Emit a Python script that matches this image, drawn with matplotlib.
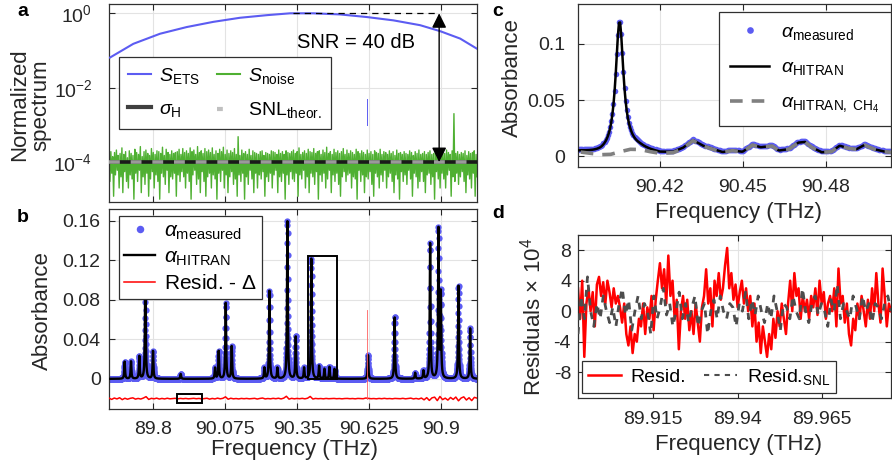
import numpy as np
import matplotlib
matplotlib.use('Agg')
import matplotlib.pyplot as plt
from matplotlib.patches import Rectangle
from matplotlib.lines import Line2D

plt.rcParams['font.family'] = ['Liberation Sans', 'DejaVu Sans']
plt.rcParams['mathtext.fontset'] = 'custom'
plt.rcParams['mathtext.rm'] = 'Liberation Sans'
plt.rcParams['mathtext.it'] = 'Liberation Sans:italic'
plt.rcParams['mathtext.bf'] = 'Liberation Sans:bold'
plt.rcParams['mathtext.sf'] = 'Liberation Sans'

# ---------------- data ----------------
# panel a
ets_freq = [89.6358, 89.7248, 89.8267, 89.9287, 90.0303, 90.1323, 90.2343, 90.3233,
            90.4123, 90.5143, 90.6163, 90.7179, 90.8199, 90.8963, 90.9727, 91.0364]
ets_vals = [0.0646, 0.151, 0.282, 0.427, 0.589, 0.759, 0.891, 1.0,
            1.0, 0.933, 0.794, 0.646, 0.479, 0.331, 0.209, 0.112]
ets_spike_freq = [90.6174, 90.6174]
ets_spike_vals = [1.0e-3, 5.0e-3]
noise_a_hi = [  # upper excursions, units of 1e-4
    1.6, 1.9, 1.4, 1.8, 2.1, 1.5, 1.7, 2.4, 1.6, 1.9,
    1.3, 2.0, 1.7, 1.5, 2.2, 1.8, 1.6, 2.6, 1.4, 1.9,
    2.1, 1.7, 1.5, 2.3, 1.8, 1.6, 2.0, 1.9, 1.7, 2.5,
    1.5, 2.2, 1.8, 1.6, 2.0, 1.7, 1.8, 1.9, 2.2, 1.6,
    2.3, 1.8, 2.0, 1.7, 2.4, 1.9, 2.1, 1.6, 2.6, 1.8,
    2.0, 1.7, 2.3, 1.9, 2.1, 1.8, 2.4, 1.6, 2.0, 1.7,
    2.2, 1.9, 2.5, 1.6, 2.1, 1.7, 2.0, 1.8, 2.3, 1.6,
    4.8, 1.5, 2.1, 1.7, 1.9, 1.6, 2.2, 1.5, 2.0, 1.8,
    1.7, 1.6, 1.9, 2.0, 1.5, 1.8, 1.7, 1.6, 2.0, 1.9,
    1.8, 1.6, 2.1, 1.7, 1.9, 1.6, 2.0, 1.8, 1.7, 1.9,
    2.1, 1.7, 1.9, 2.4, 1.6, 1.8, 2.0, 1.7, 2.2, 1.9,
    1.8, 2.3, 1.7, 1.9, 2.0, 1.6, 2.1, 1.8, 2.5, 1.7,
    1.9, 1.6, 2.2, 1.8, 2.0, 1.7, 1.9, 2.3, 1.6, 2.1,
    1.7, 2.0, 1.8, 1.6, 2.2, 1.9, 1.7, 2.0, 1.8, 1.6,
    2.1, 1.7, 1.9, 1.6, 2.0, 1.8, 1.7, 2.2, 1.6, 1.9,
    1.8, 1.6, 2.0, 1.7, 1.9, 1.5, 2.1, 1.7, 1.8, 1.6,
    1.9, 1.7, 1.6, 2.0, 1.8, 1.5, 1.9, 1.7, 2.1, 1.6,
    1.7, 1.9, 1.6, 1.8, 2.0, 1.6, 1.7, 1.9, 1.5, 1.8,
    1.6, 1.9, 1.7, 2.1, 1.8, 1.6, 2.0, 20.0, 1.7, 1.9,
    1.6, 1.8, 1.7, 2.0, 1.5, 1.9, 1.7, 1.8, 2.0, 1.6,
]
noise_a_lo = [  # lower excursions, units of 1e-4
    0.3, 0.5, 0.12, 0.45, 0.6, 0.2, 0.4, 0.15, 0.55, 0.3,
    0.2, 0.45, 0.35, 0.1, 0.5, 0.3, 0.6, 0.15, 0.4, 0.25,
    0.5, 0.12, 0.35, 0.55, 0.2, 0.45, 0.3, 0.1, 0.5, 0.4,
    0.25, 0.6, 0.15, 0.4, 0.35, 0.5, 0.12, 0.45, 0.3, 0.55,
    0.4, 0.2, 0.5, 0.3, 0.1, 0.45, 0.6, 0.25, 0.35, 0.15,
    0.55, 0.3, 0.12, 0.4, 0.5, 0.2, 0.45, 0.35, 0.1, 0.5,
    0.3, 0.6, 0.2, 0.45, 0.15, 0.4, 0.55, 0.25, 0.35, 0.12,
    0.45, 0.3, 0.5, 0.1, 0.4, 0.25, 0.6, 0.35, 0.15, 0.5,
    0.2, 0.45, 0.35, 0.55, 0.12, 0.4, 0.3, 0.5, 0.2, 0.45,
    0.6, 0.15, 0.4, 0.3, 0.5, 0.1, 0.45, 0.25, 0.55, 0.35,
    0.3, 0.5, 0.12, 0.45, 0.35, 0.6, 0.2, 0.4, 0.15, 0.5,
    0.4, 0.25, 0.55, 0.1, 0.45, 0.3, 0.5, 0.2, 0.35, 0.6,
    0.15, 0.45, 0.3, 0.5, 0.25, 0.12, 0.4, 0.55, 0.3, 0.45,
    0.5, 0.2, 0.4, 0.35, 0.1, 0.6, 0.3, 0.45, 0.15, 0.4,
    0.35, 0.55, 0.25, 0.12, 0.5, 0.4, 0.2, 0.45, 0.3, 0.6,
    0.2, 0.4, 0.5, 0.3, 0.15, 0.45, 0.35, 0.1, 0.55, 0.3,
    0.45, 0.25, 0.6, 0.35, 0.12, 0.5, 0.4, 0.2, 0.3, 0.55,
    0.3, 0.15, 0.45, 0.5, 0.25, 0.4, 0.1, 0.55, 0.35, 0.2,
    0.5, 0.35, 0.2, 0.45, 0.6, 0.12, 0.4, 0.3, 0.5, 0.25,
    0.4, 0.55, 0.3, 0.15, 0.45, 0.35, 0.2, 0.5, 0.12, 0.4,
]
sigma_h = 1.0e-4
snl_theor = 1.0e-4
snr_span_freq = [90.335, 90.8925]

# panel b
peak_centers = [89.6918, 89.716, 89.7478, 89.7707, 89.800, 89.9057, 90.0368, 90.0508,
                90.0776, 90.1005, 90.2253, 90.2444, 90.2749, 90.3131, 90.345, 90.3768,
                90.4045, 90.4341, 90.4545, 90.4736, 90.4927, 90.6208, 90.7226, 90.8008,
                90.8325, 90.858, 90.8899, 90.8988, 90.9663, 91.0108]
peak_heights = [0.0176, 0.0176, 0.023, 0.11, 0.028, 0.005, 0.011, 0.028,
                0.0766, 0.033, 0.011, 0.089, 0.011, 0.16, 0.043, 0.011,
                0.122, 0.013, 0.010, 0.012, 0.010, 0.024, 0.063, 0.006,
                0.008, 0.137, 0.151, 0.085, 0.0945, 0.051]
peak_hwhm = 0.0017
resid_b = [  # units of 1e-3
    0.5, -0.8, 0.6, -0.3, 0.9, -1.0, 0.4, -0.6, 0.3, 0.8,
    -0.5, 0.2, -0.4, 0.6, 2.0, -0.8, 0.3, -0.2, 0.5, -0.4,
    0.2, -0.3, 0.4, -0.2, 0.1, 0.3, -0.2, 0.2, -0.1, 0.2,
    -0.2, 0.1, 0.3, -0.1, 0.2, -0.3, 0.1, 0.4, -0.5, 0.2,
    -0.3, 0.5, -0.2, 0.3, 1.8, -0.6, 0.4, -0.2, 0.1, -0.3,
    0.2, -0.1, 0.2, -0.2, 0.1, 0.3, -0.4, 0.2, 0.6, -0.3,
    0.1, -0.2, 0.3, -0.1, 0.4, -0.3, 0.5, 2.4, -0.5, 0.3,
    -0.2, 0.2, -0.1, 0.3, -0.2, 0.4, 2.2, -0.4, 0.2, -0.1,
    0.1, -0.2, 0.2, -0.1, 0.1, 0.2, -0.1, 0.1, -0.2, 0.1,
    0.2, -0.1, 0.1, -0.2, 0.2, 0.1, -0.1, 0.6, 0.2, -0.1,
    0.1, -0.2, 0.2, -0.1, 0.3, -0.1, 0.1, -0.2, 0.2, 0.1,
    -0.1, 0.3, -0.2, 0.2, 0.5, -0.3, 0.2, -0.4, 0.6, -1.2,
    1.0, -1.8, 0.8, 1.5, -2.0, 2.2, -1.0, 0.5, -1.5, 1.2,
    -0.8, 1.6, -2.2, 0.6, 1.8, -1.4, 0.9, -2.0, 1.3, 0.5,
]
resid_offset = 0.02
resid_spike_freq = [90.6172, 90.6172]
resid_spike_vals = [-0.02, 0.07]

# panel c
c_freq = [90.3915, 90.3951, 90.3987, 90.4023, 90.4058, 90.4094, 90.413, 90.4165,
          90.4201, 90.4249, 90.4285, 90.432, 90.4356, 90.4392, 90.4427, 90.4463,
          90.4499, 90.4535, 90.4564, 90.4606, 90.463, 90.4665, 90.4701, 90.4725,
          90.4749, 90.4785, 90.482, 90.485, 90.488, 90.491, 90.4939, 90.4975,
          90.5011, 90.5035]
c_ch4 = [0.0035, 0.0024, 0.0012, 0.0015, 0.0039, 0.006, 0.0058, 0.0039,
         0.0024, 0.003, 0.0069, 0.0137, 0.0089, 0.006, 0.0033, 0.0048,
         0.0036, 0.0098, 0.0077, 0.0089, 0.0048, 0.006, 0.0119, 0.0125,
         0.0077, 0.0033, 0.0039, 0.0092, 0.0069, 0.006, 0.0098, 0.006,
         0.0039, 0.0033]
c_main_center = 90.4055
c_main_height = 0.117

# panel d
resid_d = [
    3, -1, 4, -6, 1, 3, 0, 2.5, -2, 3.5,
    4.5, 2, 3.8, 1, 4, 2.5, 0.5, 3, 1, 2,
    0.5, -1.5, 1, -3, -4.5, -2, -5.5, -3, -4, -1,
    -2, 1, -3, 0.5, -1, 2, -2.5, 1.5, 4, 6.3,
    3, 5.5, 1, 7.3, 2, 4, -1, 1.5, -5, 0,
    2, -1, 1.5, -2.5, 0, -3, 1, -1.5, -4, 0.5,
    2, 5.5, 1, 3, -2, 4, 2, 5, 1.5, 3,
    6, 8.3, 3, 5, 1.5, 3.5, 0.5, 2.5, 4, 1,
    3, 0, 2, -2, 1, -4, -1.5, -5.5, -2, -4,
    -6, -3, -5, -1, -3.5, 0, -2, 1, -1, -3,
    1, 4, 0, 5, 2, 3, -1, 2, 0, 1.5,
    -1, 2, 0.5, 3, -0.5, 4, 1, 2.5, -1, 1,
    2, 0, 3, -2, 5.6, 1, 2, -1.5, 1, -3,
    -4.5, -1, -2.5, 1, -1, 2, 0, -2, 1.5, -1,
    3, 0, 5, 1, -1.5, 5.6, 2, -2, 1, 0,
]
resid_snl_d = [
    -3, 2, -1, 4.5, 0, -2, 1, -1, 2, 0,
    -1.5, 0.5, -2, 1, 3, -0.5, 1.5, -2.5, 0, 2,
    -1, 1, 0, -3, 2, -1, 0.5, 3, -0.5, 1,
    -2, 0, 2.5, -1, 1, -1.5, 0.5, 2, -2, 0,
    1, -3, 0, 1.5, -1, 2, 0, -1, 1, 0.5,
    -2, 1, 0, 2.5, -1, 1.5, -0.5, 2, 0, -1.5,
    1, -1, 2, 0, -2.5, 1, 0.5, -1, 2, 0,
    -1, 3, 0, -1.5, 1, 2, -0.5, 1, 0, -2,
    1.5, 0, 3.5, -1, 1, 0, -1, 2, 0.5, -1,
    2, 0, 1, -1.5, 1, 0.5, -1, 1, 2, 0,
]

# axis limits / ticks
xlim_ab = (89.632, 91.037)
xlim_c = (90.3905, 90.5035)
xlim_d = (89.8927, 89.9855)
xticks_ab = [89.8, 90.075, 90.35, 90.625, 90.9]
xticklabels_ab = ['89.8', '90.075', '90.35', '90.625', '90.9']
yticks_b = [0, 0.04, 0.08, 0.12, 0.16]
yticklabels_b = ['0', '0.04', '0.08', '0.12', '0.16']
xticks_c = [90.42, 90.45, 90.48]
xticklabels_c = ['90.42', '90.45', '90.48']
yticks_c = [0, 0.05, 0.1]
yticklabels_c = ['0', '0.05', '0.1']
xticks_d = [89.915, 89.94, 89.965]
xticklabels_d = ['89.915', '89.94', '89.965']
yticks_d = [-8, -4, 0, 4, 8]
yticklabels_d = ['-8', '-4', '0', '4', '8']

# ---------------- styling ----------------
BLUE = '#5c5cf2'
GREEN = '#4fb032'
TXT = '#262626'
W, H = 892, 471


def lorentz(f, centers, heights, g):
    f = np.asarray(f)[:, None]
    return np.sum(np.asarray(heights) / (1 + ((f - np.asarray(centers)) / g) ** 2), axis=1)


def style(ax, ypad):
    for s in ax.spines.values():
        s.set_color('#303030')
        s.set_linewidth(0.9)
    ax.grid(True, color='#e3e3e3', lw=0.8)
    ax.set_axisbelow(True)
    ax.tick_params(direction='in', length=4, width=0.8, colors=TXT, labelsize=14,
                   top=True, right=True)
    ax.tick_params(axis='x', pad=9)
    ax.tick_params(axis='y', pad=ypad)


def frame(leg):
    leg.get_frame().set_linewidth(0.9)


fig = plt.figure(figsize=(W / 100, H / 100), dpi=100)
axa = fig.add_axes([109 / W, 1 - 202 / H, 368 / W, 198 / H])
axb = fig.add_axes([109 / W, 1 - 409 / H, 368 / W, 200 / H])
axc = fig.add_axes([578 / W, 1 - 167 / H, 313 / W, 163 / H])
axd = fig.add_axes([578 / W, 1 - 398 / H, 313 / W, 163 / H])

# ---------------- panel a ----------------
style(axa, 12)
axa.set_yscale('log')
noise_series = np.empty(len(noise_a_hi) + len(noise_a_lo))
noise_series[0::2] = noise_a_hi
noise_series[1::2] = noise_a_lo
noise_freq = np.linspace(xlim_ab[0], xlim_ab[1], len(noise_series))
axa.plot(noise_freq, noise_series * 1e-4, color=GREEN, lw=1.0, zorder=2)
axa.axhline(sigma_h, color='#1a1a1a', lw=2.6, zorder=3)
axa.axhline(snl_theor, color='#9a9a9a', lw=2.6, ls=(0, (3, 3)), zorder=4)
axa.plot(ets_freq, ets_vals, color=BLUE, lw=1.5, zorder=3)
axa.plot(ets_spike_freq, ets_spike_vals, color=BLUE, lw=0.7, zorder=3)
axa.plot(snr_span_freq, [1.0, 1.0], color='k', lw=0.9, ls=(0, (5, 4)), zorder=5)
axa.annotate('', xy=(snr_span_freq[1], sigma_h), xytext=(snr_span_freq[1], 1.0),
             arrowprops=dict(arrowstyle='<|-|>', color='k', lw=1.0, mutation_scale=22,
                             shrinkA=0, shrinkB=0), zorder=6)
axa.text(90.5754, 0.16, 'SNR = 40 dB', fontsize=14.5, color='k', ha='center', va='center')
axa.set_xlim(xlim_ab)
axa.set_ylim(8.4e-6, 1.78)
axa.set_yticks([1e-4, 1e-2, 1])
axa.set_yticklabels(['$10^{-4}$', '$10^{-2}$', '$10^{0}$'])
axa.yaxis.set_minor_locator(matplotlib.ticker.NullLocator())
axa.set_xticks(xticks_ab)
axa.set_xticklabels([])
axa.set_ylabel('Normalized\nspectrum', fontsize=16, color=TXT, va='center', linespacing=1.0)
axa.yaxis.set_label_coords(-0.215, 0.49)
ha = [Line2D([], [], color=BLUE, lw=1.5), Line2D([], [], color='#404040', lw=3),
      Line2D([], [], color=GREEN, lw=1.5), Line2D([], [], color='#c0c0c0', lw=3, ls=(0, (1.4, 10)))]
la = ['$S_{\\mathrm{ETS}}$', '$\\sigma_{\\mathrm{H}}$', '$S_{\\mathrm{noise}}$', 'SNL$_{\\mathrm{theor.}}$']
frame(axa.legend(ha, la, ncol=2, loc='upper left', bbox_to_anchor=(0.027, 0.732),
                 borderaxespad=0, fontsize=14, frameon=True, fancybox=False,
                 edgecolor='#303030', framealpha=1, handlelength=1.2, handletextpad=0.4,
                 columnspacing=0.9, labelspacing=0.75, borderpad=0.45))

# ---------------- panel b ----------------
style(axb, 6)
b_grid = np.arange(xlim_ab[0], xlim_ab[1], 0.0004)
b_model = lorentz(b_grid, peak_centers, peak_heights, peak_hwhm)
axb.plot(b_grid, b_model, 'o', color=BLUE, ms=4.5, mec='none', zorder=2,
         label='$\\alpha_{\\mathrm{measured}}$')
axb.plot(b_grid, b_model, '-', color='k', lw=1.7, zorder=3, label='$\\alpha_{\\mathrm{HITRAN}}$')
rb_freq = np.linspace(xlim_ab[0], xlim_ab[1], len(resid_b))
axb.plot(rb_freq, np.array(resid_b) * 1e-3 - resid_offset, color='#ff0000', lw=1.1, zorder=4,
         label='Resid. - $\\Delta$')
axb.plot(resid_spike_freq, resid_spike_vals, color='#ff6060', lw=0.6, zorder=4)
axb.add_patch(Rectangle((xlim_c[0], 0), xlim_c[1] - xlim_c[0], 0.124, fill=False,
                        ec='k', lw=1.4, zorder=5))
axb.add_patch(Rectangle((xlim_d[0], -0.0245), xlim_d[1] - xlim_d[0], 0.009, fill=False,
                        ec='k', lw=1.4, zorder=5))
axb.set_xlim(xlim_ab)
axb.set_ylim(-0.0305, 0.172)
axb.set_xticks(xticks_ab)
axb.set_xticklabels(xticklabels_ab)
axb.set_yticks(yticks_b)
axb.set_yticklabels(yticklabels_b)
axb.set_ylabel('Absorbance', fontsize=16, color=TXT, va='center')
axb.yaxis.set_label_coords(-0.182, 0.49)
axb.set_xlabel('Frequency (THz)', fontsize=16, color=TXT, va='center')
axb.xaxis.set_label_coords(0.503, -0.205)
frame(axb.legend(loc='upper left', bbox_to_anchor=(0.027, 0.965), borderaxespad=0,
                 fontsize=15, frameon=True, fancybox=False, edgecolor='#303030', framealpha=1,
                 handlelength=1.5, handletextpad=0.4, labelspacing=0.3, borderpad=0.25,
                 markerscale=1.2))

# ---------------- panel c ----------------
style(axc, 9)
c_grid = np.arange(xlim_c[0], xlim_c[1], 0.0004)
c_base = np.interp(c_grid, c_freq, c_ch4)
c_total = c_base + lorentz(c_grid, [c_main_center], [c_main_height], peak_hwhm)
axc.plot(c_grid, c_total + 0.0008, 'o', color=BLUE, ms=4, mec='none', zorder=2,
         label='$\\alpha_{\\mathrm{measured}}$')
axc.plot(c_grid, c_total, '-', color='k', lw=1.8, zorder=3, label='$\\alpha_{\\mathrm{HITRAN}}$')
axc.plot(c_freq, c_ch4, color='#808080', lw=2.6, ls=(0, (3.5, 2.5)), zorder=4,
         label='$\\alpha_{\\mathrm{HITRAN,\\ CH_4}}$')
axc.set_xlim(xlim_c)
axc.set_ylim(-0.0098, 0.1357)
axc.set_xticks(xticks_c)
axc.set_xticklabels(xticklabels_c)
axc.set_yticks(yticks_c)
axc.set_yticklabels(yticklabels_c)
axc.set_ylabel('Absorbance', fontsize=16, color=TXT, va='center')
axc.yaxis.set_label_coords(-0.211, 0.55)
axc.set_xlabel('Frequency (THz)', fontsize=16, color=TXT, va='center')
axc.xaxis.set_label_coords(0.514, -0.282)
frame(axc.legend(loc='upper right', bbox_to_anchor=(1.0, 0.951), borderaxespad=0,
                 fontsize=14, frameon=True, fancybox=False, edgecolor='#303030', framealpha=1,
                 handlelength=2.0, handletextpad=0.6, labelspacing=0.85, borderpad=0.6,
                 markerscale=1.2))

# ---------------- panel d ----------------
style(axd, 5)
d_freq = np.linspace(xlim_d[0], xlim_d[1], len(resid_d))
d_freq2 = np.linspace(xlim_d[0], xlim_d[1], len(resid_snl_d))
axd.plot(d_freq, resid_d, color='#ff0000', lw=1.8, zorder=2, label='Resid.')
axd.plot(d_freq2, resid_snl_d, color='#4d4d4d', lw=2.0, ls=(0, (2.5, 2.5)), zorder=3,
         label='Resid.$_{\\mathrm{SNL}}$')
axd.set_xlim(xlim_d)
axd.set_ylim(-11.4, 10.0)
axd.set_xticks(xticks_d)
axd.set_xticklabels(xticklabels_d)
axd.set_yticks(yticks_d)
axd.set_yticklabels(yticklabels_d)
axd.set_ylabel('Residuals $\\times$ 10$^4$', fontsize=16, color=TXT, va='center')
axd.yaxis.set_label_coords(-0.144, 0.50)
axd.set_xlabel('Frequency (THz)', fontsize=16, color=TXT, va='center')
axd.xaxis.set_label_coords(0.513, -0.288)
hd = [Line2D([], [], color='#ff0000', lw=1.8),
      Line2D([], [], color='#4d4d4d', lw=1.5, ls=(0, (2.5, 2.5)))]
frame(axd.legend(hd, ['Resid.', 'Resid.$_{\\mathrm{SNL}}$'], ncol=2, loc='lower left',
                 bbox_to_anchor=(0.013, 0.031), borderaxespad=0, fontsize=14, frameon=True,
                 fancybox=False, edgecolor='#303030', framealpha=1, handlelength=1.7,
                 handletextpad=0.5, columnspacing=0.9, borderpad=0.3))

# ---------------- panel labels ----------------
for lab, x, y in [('a', 17, 12), ('b', 17, 218), ('c', 492, 11), ('d', 492, 213)]:
    fig.text(x / W, 1 - y / H, lab, fontsize=14, fontweight='bold', ha='left', va='center')

fig.savefig('out.png', dpi=100)
